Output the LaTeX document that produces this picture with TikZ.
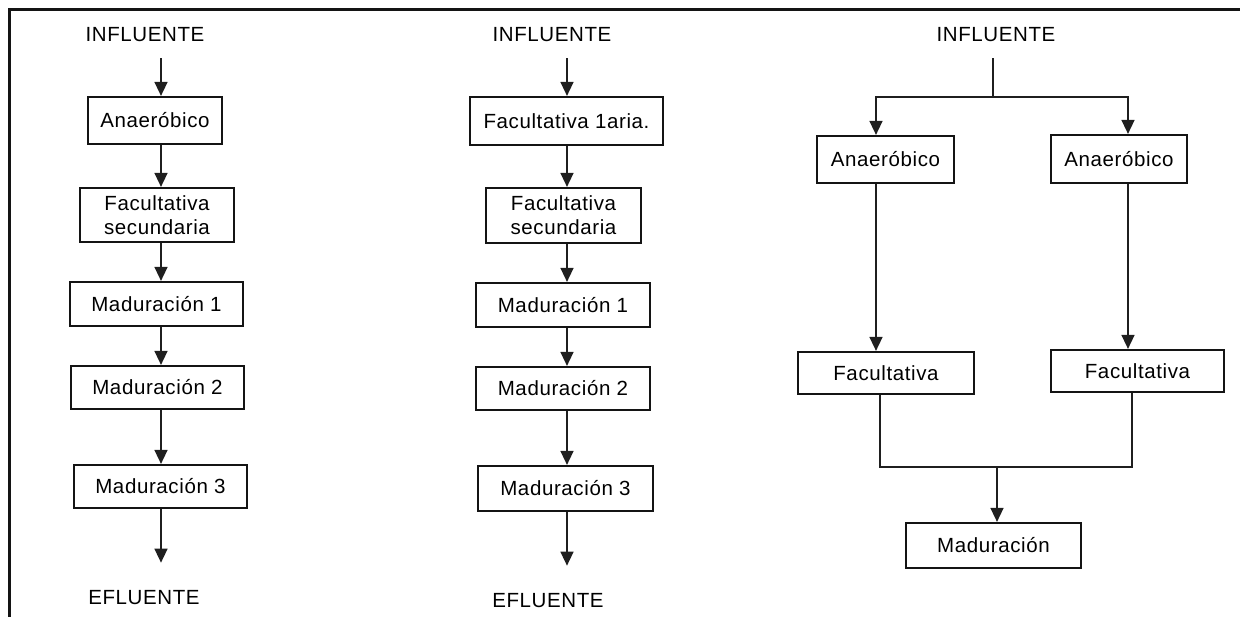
\documentclass[tikz,border=0pt]{standalone}
\usepackage{fontspec}
\setmainfont{Liberation Sans}[LetterSpace=3]
\usetikzlibrary{arrows.meta}
\begin{document}
\begin{tikzpicture}[x=1pt,y=-1pt,
  every node/.style={font=\fontsize{20.5}{24}\selectfont, text=black},
  box/.style={draw=black!92, line width=2.2pt, inner sep=0pt, align=center},
  lbl/.style={inner sep=0pt},
  conn/.style={draw=black!88, line width=1.5pt},
  arr/.style={conn, -{Triangle[width=13pt,length=14pt]}}
]
\useasboundingbox (0,0) rectangle (1240,617);
% frame
\draw[line width=3pt, black!92] (9.5,617) -- (9.5,10) -- (1240,10);

% ---------- left column ----------
\coordinate (xL) at (161,0);
\node[lbl] (in1) at (145,35) {INFLUENTE};
\node[box, minimum width=134pt, minimum height=47pt] (a1) at (155,120.5) {Anaeróbico};
\node[box, minimum width=154pt, minimum height=54pt] (a2) at (157,215) {Facultativa\\secundaria};
\node[box, minimum width=173pt, minimum height=44pt] (a3) at (156.5,304) {Maduración 1};
\node[box, minimum width=173pt, minimum height=43pt] (a4) at (157.5,387.5) {Maduración 2};
\node[box, minimum width=173pt, minimum height=43pt] (a5) at (160.5,486.5) {Maduración 3};
\node[lbl] (ef1) at (144,598) {EFLUENTE};
\draw[arr, shorten <=16pt] (in1.south -| xL) -- (a1.north -| xL);
\draw[arr] (a1.south -| xL) -- (a2.north -| xL);
\draw[arr] (a2.south -| xL) -- (a3.north -| xL);
\draw[arr] (a3.south -| xL) -- (a4.north -| xL);
\draw[arr] (a4.south -| xL) -- (a5.north -| xL);
\draw[arr, shorten >=28pt] (a5.south -| xL) -- (ef1.north -| xL);

% ---------- middle column ----------
\coordinate (xM) at (567,0);
\node[lbl] (in2) at (552,35) {INFLUENTE};
\node[box, minimum width=193pt, minimum height=48pt] (b1) at (566.5,121) {Facultativa 1aria.};
\node[box, minimum width=155pt, minimum height=55pt] (b2) at (563.5,215.5) {Facultativa\\secundaria};
\node[box, minimum width=174pt, minimum height=44pt] (b3) at (563,305) {Maduración 1};
\node[box, minimum width=174pt, minimum height=43pt] (b4) at (563,388.5) {Maduración 2};
\node[box, minimum width=175pt, minimum height=45pt] (b5) at (565.5,488.5) {Maduración 3};
\node[lbl] (ef2) at (548,601) {EFLUENTE};
\draw[arr, shorten <=16pt] (in2.south -| xM) -- (b1.north -| xM);
\draw[arr] (b1.south -| xM) -- (b2.north -| xM);
\draw[arr] (b2.south -| xM) -- (b3.north -| xM);
\draw[arr] (b3.south -| xM) -- (b4.north -| xM);
\draw[arr] (b4.south -| xM) -- (b5.north -| xM);
\draw[arr, shorten >=28pt] (b5.south -| xM) -- (ef2.north -| xM);

% ---------- right column ----------
\coordinate (xRL) at (876,0);
\coordinate (xRR) at (1128,0);
\coordinate (xRL2) at (880,0);
\coordinate (xRR2) at (1132,0);
\coordinate (j1) at (993,97);
\coordinate (j2) at (997,467);
\node[lbl] (in3) at (996,35) {INFLUENTE};
\node[box, minimum width=137pt, minimum height=47pt] (c1) at (885.5,159.5) {Anaeróbico};
\node[box, minimum width=136pt, minimum height=48pt] (c2) at (1119,159) {Anaeróbico};
\node[box, minimum width=176pt, minimum height=42pt] (c3) at (886,373) {Facultativa};
\node[box, minimum width=173pt, minimum height=42pt] (c4) at (1137.5,371) {Facultativa};
\node[box, minimum width=175pt, minimum height=45pt] (c5) at (993.5,545.5) {Maduración};
\draw[conn, shorten <=16pt] (in3.south -| j1) -- (j1);
\draw[arr] (j1) -| (c1.north -| xRL);
\draw[arr] (j1) -| (c2.north -| xRR);
\draw[arr] (c1.south -| xRL) -- (c3.north -| xRL);
\draw[arr] (c2.south -| xRR) -- (c4.north -| xRR);
\draw[conn] (c3.south -| xRL2) |- (j2);
\draw[conn] (c4.south -| xRR2) |- (j2);
\draw[arr] (j2) -- (c5.north -| j2);
\end{tikzpicture}
\end{document}
